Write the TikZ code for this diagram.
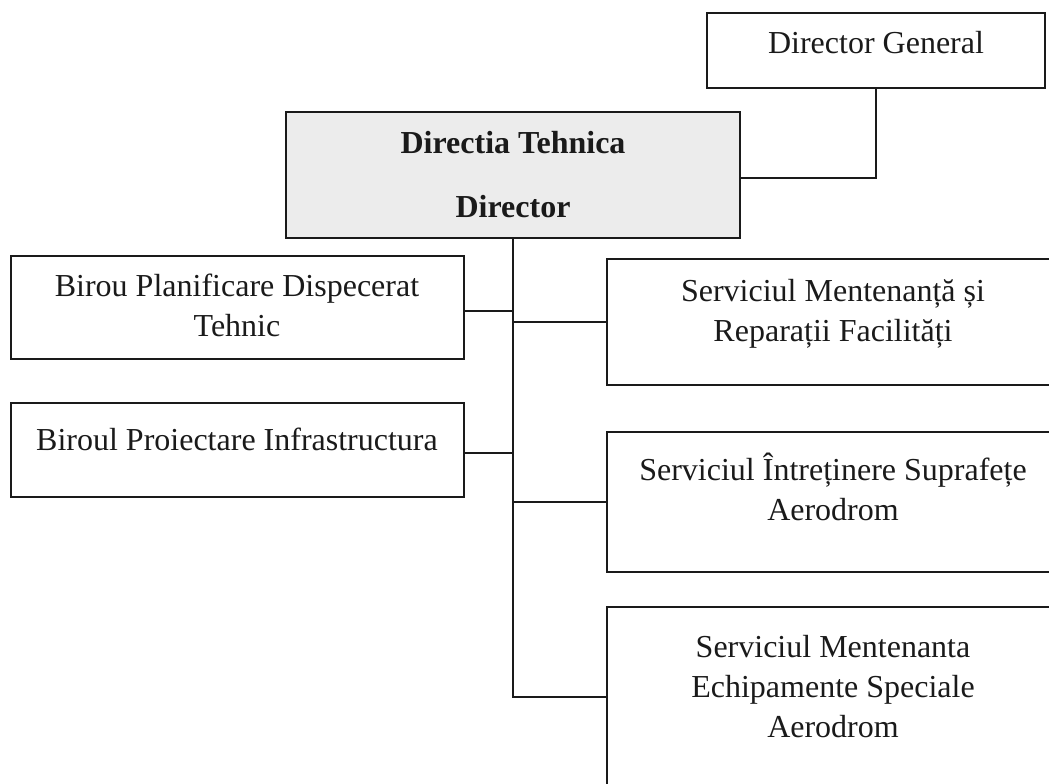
\documentclass[tikz,border=0pt]{standalone}
\usepackage{fontspec}
\setmainfont{Liberation Serif}
\definecolor{ink}{HTML}{1A1A1A}
\definecolor{shade}{HTML}{ECECEC}
\newcommand\rowsc[1]{\begin{tabular}[t]{@{}c@{}}#1\end{tabular}}
\tikzset{
  box/.style={draw=ink, line width=2.4pt, rectangle, inner sep=0pt, outer sep=0pt, anchor=north west},
  wire/.style={draw=ink, line width=1.3pt},
  txt/.style={inner sep=0pt, outer sep=0pt, anchor=base, text=ink, font=\fontsize{32}{40}\selectfont},
}
\begin{document}
\begin{tikzpicture}[x=1pt, y=-1pt]
  \useasboundingbox (0,0) rectangle (1049,784);
  \clip (0,0) rectangle (1049,784);

  % boxes (the right column runs past the page edge)
  \node[box, minimum width=338pt, minimum height=75pt] (dg) at (707,13) {};
  \node[box, fill=shade, minimum width=454pt, minimum height=126pt] (dt) at (286,112) {};
  \node[box, minimum width=453pt, minimum height=103pt] (bpd) at (11,256) {};
  \node[box, minimum width=453pt, minimum height=94pt] (bpi) at (11,403) {};
  \node[box, minimum width=452pt, minimum height=126pt] (smr) at (607,259) {};
  \node[box, minimum width=452pt, minimum height=140pt] (sis) at (607,432) {};
  \node[box, minimum width=452pt, minimum height=180pt] (sme) at (607,607) {};

  % labels
  \node[txt] (dgt) at (876,53) {Director General};
  \node[txt, font=\fontsize{32}{40}\selectfont\bfseries] (dtt1) at (513,153) {Directia Tehnica};
  \node[txt, font=\fontsize{32}{40}\selectfont\bfseries] (dtt2) at (513,217) {Director};
  \node[txt] (bpdt) at (237,296) {\rowsc{Birou Planificare Dispecerat\\Tehnic}};
  \node[txt] (bpit) at (237,450) {Biroul Proiectare Infrastructura};
  \node[txt] (smrt) at (833,301) {\rowsc{Serviciul Mentenanță și\\Reparații Facilități}};
  \node[txt] (sist) at (833,480) {\rowsc{Serviciul Întreținere Suprafețe\\Aerodrom}};
  \node[txt] (smet) at (833,657) {\rowsc{Serviciul Mentenanta\\Echipamente Speciale\\Aerodrom}};

  % connection points on the box sides
  \coordinate (dtin) at ([yshift=-3pt]dt.east);
  \coordinate (bpdout) at ([yshift=-3.5pt]bpd.east);
  \coordinate (bpiout) at ([yshift=-3pt]bpi.east);

  % connectors
  \draw[wire] (dg.south) |- (dtin);
  \draw[wire] (dt.south) |- (sme.west);
  \draw[wire] (bpdout) -- (bpdout -| dt.south);
  \draw[wire] (bpiout) -- (bpiout -| dt.south);
  \draw[wire] (smr.west -| dt.south) -- (smr.west);
  \draw[wire] (sis.west -| dt.south) -- (sis.west);
\end{tikzpicture}
\end{document}
